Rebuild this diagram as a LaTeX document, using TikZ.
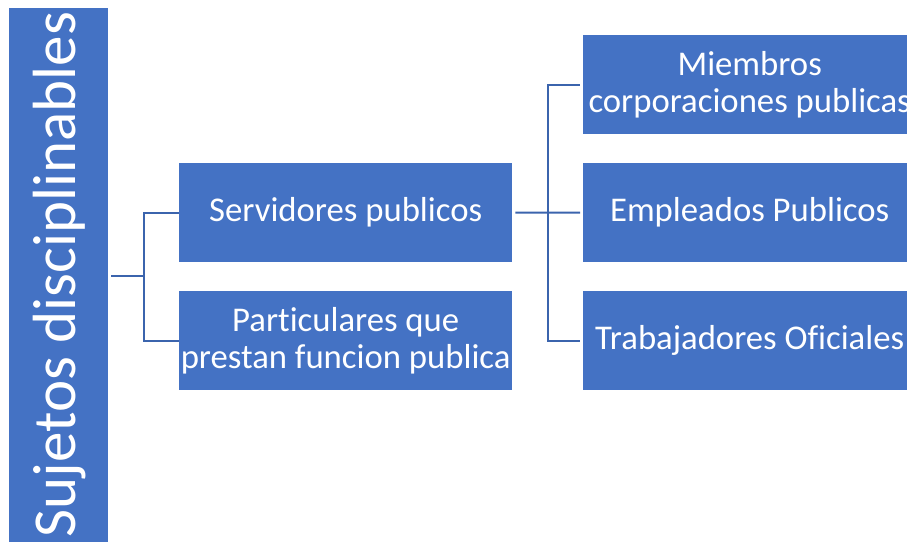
\documentclass[tikz,border=0pt]{standalone}
\usepackage{fontspec}
\setmainfont{Carlito}[Ligatures={NoCommon}]
\definecolor{boxblue}{HTML}{4472C4}
\definecolor{lineblue}{HTML}{3B64AD}
\begin{document}
\begin{tikzpicture}[x=1pt,y=-1pt,
  blk/.style={fill=boxblue,draw=none,text=white,align=center,minimum width=333pt,minimum height=99pt,inner sep=0pt,font=\fontsize{34.7}{36.5}\selectfont},
  conn/.style={draw=lineblue,line width=2pt}]
\useasboundingbox (0,0) rectangle (907,541);
\clip (0,0) rectangle (907,541);
\node[fill=boxblue,minimum width=99pt,minimum height=545pt,inner sep=0pt,anchor=north west] (root) at (9,8) {};
\node[text=white,rotate=90,font=\fontsize{61}{66}\selectfont] (roottext) at (60,274.5) {Sujetos disciplinables};
\node[blk,anchor=north west] (serv) at (179,163) {Servidores publicos};
\node[blk,anchor=north west] (part) at (179,291) {Particulares que\\prestan funcion publica};
\node[blk,anchor=north west] (miem) at (583,35) {Miembros\\corporaciones publicas};
\node[blk,anchor=north west] (empl) at (583,163) {Empleados Publicos};
\node[blk,anchor=north west] (trab) at (583,291) {Trabajadores Oficiales};
\coordinate (j1) at (144,276);
\coordinate (j2) at (548,212.5);
\draw[conn] (root.east |- j1) ++(3,0) -- (j1);
\draw[conn] (j1) |- (serv.west);
\draw[conn] (j1) |- (part.west);
\draw[conn] (serv.east) ++(3,0) -- (j2);
\draw[conn] (j2) |- ([xshift=-3pt]miem.west);
\draw[conn] (j2) -- ([xshift=-3pt]empl.west);
\draw[conn] (j2) |- ([xshift=-3pt]trab.west);
\end{tikzpicture}
\end{document}
